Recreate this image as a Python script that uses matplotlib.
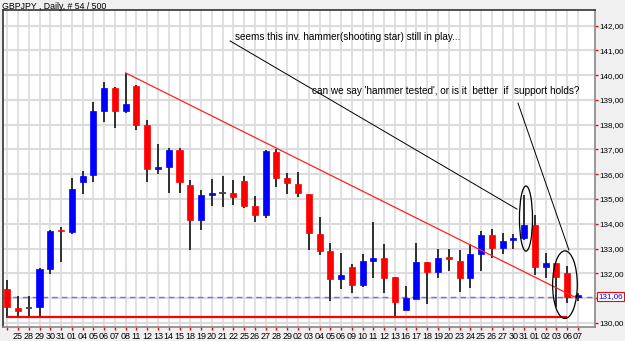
import matplotlib.pyplot as plt
from matplotlib.patches import Ellipse

# daily GBPJPY bars
dates = ["", "25", "28", "29", "30", "31", "01", "04", "05", "06", "07", "08",
         "11", "12", "13", "14", "15", "18", "19", "20", "21", "22", "25", "26",
         "27", "28", "29", "02", "03", "04", "05", "06", "09", "10", "11", "12",
         "13", "16", "17", "18", "19", "20", "23", "24", "25", "26", "27", "30",
         "31", "01", "02", "03", "06", "07"]
opens = [131.37, 130.58, 130.61, 130.62, 132.16, 133.71, 133.68, 135.70, 135.96, 138.57,
         139.50, 138.54, 139.58, 137.99, 136.21, 136.30, 136.98, 135.56, 134.15, 135.16,
         135.23, 135.25, 135.73, 134.72, 134.36, 136.90, 135.83, 135.59, 135.20, 133.58,
         132.90, 131.75, 132.24, 131.52, 132.49, 132.63, 131.83, 130.51, 130.95, 132.46,
         132.06, 132.62, 132.51, 131.79, 132.76, 133.54, 133.01, 133.34, 133.43, 133.95,
         132.24, 132.42, 132.00, 131.04]
highs = [131.73, 131.08, 131.08, 132.20, 133.75, 133.88, 135.83, 136.13, 138.90, 139.71,
         139.54, 140.08, 139.60, 138.19, 137.22, 137.05, 137.05, 135.77, 135.36, 135.79,
         135.94, 135.77, 135.94, 135.12, 136.98, 137.02, 136.04, 136.10, 135.20, 134.26,
         133.21, 132.83, 132.37, 132.76, 134.08, 133.18, 131.85, 131.48, 133.21, 132.46,
         132.98, 132.98, 132.94, 133.17, 133.70, 133.79, 133.64, 133.58, 135.16, 134.35,
         132.83, 132.42, 132.29, 131.19]
lows = [130.18, 130.24, 130.27, 130.27, 131.96, 132.46, 133.58, 135.19, 135.67, 138.10,
        137.88, 138.46, 137.77, 135.70, 136.01, 135.25, 135.25, 132.94, 133.75, 134.72,
        134.69, 134.76, 134.65, 134.06, 134.24, 135.49, 135.19, 135.07, 132.94, 132.74,
        130.89, 131.35, 131.21, 131.45, 131.79, 131.19, 130.27, 130.51, 130.95, 130.76,
        131.82, 132.10, 131.25, 131.39, 132.09, 132.60, 132.76, 132.97, 133.34, 131.93,
        131.79, 130.65, 130.78, 130.89]
closes = [130.62, 130.47, 130.61, 132.16, 133.69, 133.69, 135.39, 135.93, 138.55, 139.47,
          138.54, 138.85, 138.00, 136.21, 136.30, 136.98, 135.70, 134.15, 135.15, 135.23,
          135.23, 135.09, 134.72, 134.36, 136.94, 135.86, 135.63, 135.23, 133.61, 132.91,
          131.75, 131.93, 131.52, 132.49, 132.63, 131.82, 130.85, 130.99, 132.46, 132.06,
          132.63, 132.58, 131.79, 132.76, 133.54, 133.01, 133.30, 133.43, 133.95, 132.24,
          132.42, 131.83, 131.03, 131.06]

last_price = 131.06
support = 130.22
trend = ([11, 52.7], [140.09, 131.04])
note1 = ([20.7, 47.34], [141.38, 134.59])
note2 = ([47.43, 52.16], [138.87, 132.94])

fig = plt.figure(figsize=(6.25, 3.41), dpi=100, facecolor="#f0f0f0")
ax = fig.add_axes([0.0048, 0.041, 0.9472, 0.9296])
ax.set_facecolor("white")

n = len(opens)
xs = list(range(n))
ax.set_xlim(-0.39, 54.58)
ax.set_ylim(129.83, 142.63)

for x in xs:
    ax.axvline(x, color="#dcdcdc", lw=1.2, zorder=0)
for p in range(130, 143):
    ax.axhline(p, color="#dcdcdc", lw=1.5, zorder=0)

for x, o, h, l, c in zip(xs, opens, highs, lows, closes):
    ax.vlines(x, l, h, color="#222222", lw=1.3, zorder=2)
    if abs(c - o) < 0.01:
        ax.hlines(o, x - 0.3, x + 0.3, color="#444444", lw=1.3, zorder=3)
        continue
    col = "#0000ff" if c > o else "#ff0000"
    hgt = max(abs(c - o), 0.07)
    ax.bar(x, hgt, bottom=min(o, c), width=0.56, color=col, edgecolor=col, lw=0.5, zorder=3)

ax.plot(trend[0], trend[1], color="#ff2020", lw=0.9, zorder=4)
ax.hlines(support, 0, 52, color="#ff0000", lw=1.6, zorder=4)
ax.axhline(last_price, color="#7070ff", lw=1.0, ls=(0, (4, 3)), zorder=1)

ax.plot(note1[0], note1[1], color="black", lw=0.7, zorder=5)
ax.plot(note2[0], note2[1], color="black", lw=0.7, zorder=5)
ax.add_patch(Ellipse((48.17, 134.21), 1.21, 2.63, fill=False, ec="black", lw=0.9, zorder=5))
ax.add_patch(Ellipse((51.79, 131.54), 2.29, 2.73, fill=False, ec="black", lw=0.9, zorder=5))

ax.text(21.15, 141.54, "seems this inv. hammer(shooting star) still in play...",
        fontsize=7.2, family="Liberation Sans", va="center", ha="left")
ax.text(28.3, 139.36, "can we say 'hammer tested', or is it  better  if  support holds?",
        fontsize=7.2, family="Liberation Sans", va="center", ha="left")

ax.yaxis.tick_right()
ax.set_yticks(range(130, 143))
ax.set_yticklabels(["" if p == 131 else f"{p},00" for p in range(130, 143)],
                   fontsize=5.8, family="Liberation Sans")
ax.tick_params(axis="y", length=2.5, width=1, color="red", pad=0.5)
ax.set_xticks(xs)
ax.set_xticklabels(dates, fontsize=6.5, family="Liberation Sans")
ax.tick_params(axis="x", length=2, width=1, color="red", pad=1.5)
for s in ax.spines.values():
    s.set_color("#333333")
    s.set_linewidth(1.2)
ax.spines["bottom"].set_color("#888888")
ax.spines["right"].set_color("#888888")

ax.text(1.006, last_price, "131,06", transform=ax.get_yaxis_transform(), fontsize=5.8,
        family="Liberation Sans", color="blue", va="center", ha="left", zorder=6,
        bbox=dict(boxstyle="square,pad=0.15", fc="white", ec="red", lw=0.8))

fig.text(0.003, 0.982, "GBPJPY , Daily, # 54 / 500", fontsize=6.3, family="Liberation Sans", va="center")

fig.savefig("out.png", dpi=100, facecolor=fig.get_facecolor())
